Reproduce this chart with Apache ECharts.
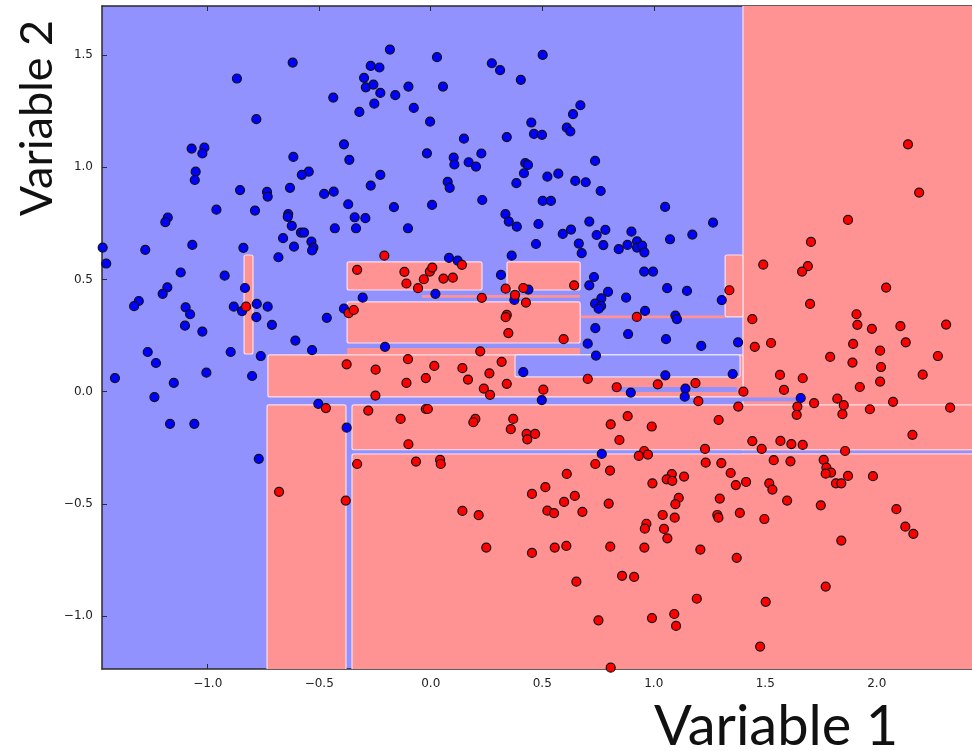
<!DOCTYPE html>
<html>
<head>
<meta charset="utf-8">
<script src="https://cdn.jsdelivr.net/npm/echarts@6/dist/echarts.min.js"></script>
<style>
  html, body { margin: 0; padding: 0; background: #fff; }
  #chart { width: 972px; height: 751px; }
</style>
</head>
<body>
<div id="chart"></div>
<script>
// tick labels
const xTicks = [-1.0, -0.5, 0.0, 0.5, 1.0, 1.5, 2.0];
const yTicks = [-1.0, -0.5, 0.0, 0.5, 1.0, 1.5];

// decision regions [x0, x1, y0, y1]
const redBoxes = [
  [1.400, 2.600, -1.400, 1.900],
  [1.320, 1.400, 0.333, 0.609],
  [0.670, 1.320, 0.327, 0.340],
  [-0.837, -0.797, 0.168, 0.609],
  [-0.375, 0.230, 0.453, 0.578],
  [0.342, 0.670, 0.453, 0.578],
  [-0.039, 0.670, 0.418, 0.431],
  [-0.375, 0.670, 0.217, 0.400],
  [-0.375, 0.670, 0.164, 0.195],
  [-0.730, 1.400, -0.023, 0.164],
  [-0.734, -0.380, -1.400, -0.059],
  [-0.353, 2.600, -0.259, -0.059],
  [-0.353, 2.600, -1.400, -0.277]
];
const blueBoxes = [
  [0.378, 1.387, 0.066, 0.164],
  [0.813, 1.374, -0.001, 0.021],
  [1.390, 1.656, -0.042, -0.026],
  [-0.353, 2.600, -0.274, -0.262]
];

// class 0 (blue) samples
const bluePoints = [
  [-0.598,1.723],[-0.619,1.466],[-0.869,1.395],[-0.782,1.214],[-1.072,1.083],[-1.015,1.087],[-1.024,1.061],
  [-0.616,1.046],[-1.054,0.980],[-1.058,0.943],[-0.547,0.980],[-0.578,0.966],[-0.855,0.898],[-0.734,0.890],
  [-0.731,0.869],[-0.631,0.908],[-0.961,0.811],[-0.788,0.807],[-0.639,0.791],[-0.641,0.779],[-1.179,0.776],
  [-1.190,0.755],[-0.623,0.739],[-0.478,0.881],
  [-0.183,1.524],[0.028,1.490],[-0.269,1.451],[-0.230,1.444],[0.274,1.463],[0.311,1.432],[0.404,1.389],
  [0.502,1.500],[-0.299,1.398],[-0.291,1.356],[-0.257,1.368],[-0.226,1.331],[-0.100,1.359],[-0.159,1.321],
  [0.055,1.359],[-0.437,1.310],[-0.253,1.283],[-0.320,1.246],[-0.076,1.264],[-0.003,1.203],[0.451,1.199],
  [0.463,1.148],[0.499,1.144],[0.341,1.134],[0.149,1.127],[-0.389,1.102],[-0.017,1.062],[-0.365,1.033],
  [0.103,1.043],[0.106,1.012],[0.170,1.022],[0.203,1.003],[0.227,1.061],[0.424,1.018],[0.436,1.010],
  [0.418,0.973],[0.384,0.929],[-0.226,0.966],[-0.269,0.918],[0.076,0.935],[0.085,0.908],[-0.435,0.891],
  [-0.370,0.835],[-0.165,0.822],[0.006,0.832],[0.231,0.854],[0.502,0.850],[0.539,0.850],[-0.341,0.777],
  [-0.293,0.773],[0.335,0.791],[0.350,0.758],[0.386,0.735],[0.483,0.747],[-0.430,0.728],[-0.335,0.728],
  [-0.102,0.728],
  [0.671,1.276],[0.638,1.236],[0.610,1.176],[0.626,1.159],[0.737,1.028],[0.523,0.958],[0.572,0.971],
  [0.648,0.939],[0.695,0.933],[0.762,0.894],[1.051,0.823],[0.711,0.758],[1.266,0.753],
  [-0.582,0.709],[-0.568,0.709],[-0.662,0.684],[-0.535,0.669],[-0.526,0.642],[-0.532,0.629],[-1.471,0.642],
  [-1.280,0.632],[-1.069,0.654],[-0.840,0.641],[-0.613,0.646],[-0.683,0.599],[-1.455,0.571],[-1.121,0.531],
  [-0.924,0.517],[-0.833,0.462],[-1.181,0.465],[-1.202,0.436],[-1.309,0.404],[-1.330,0.381],[-1.099,0.376],
  [-1.079,0.345],[-1.102,0.294],[-1.024,0.268],[-0.883,0.379],[-0.846,0.359],[-0.780,0.391],[-0.731,0.379],
  [-0.782,0.332],[-0.712,0.298],[-0.607,0.228],[-0.532,0.185],[-1.269,0.177],[-1.232,0.128],[-0.897,0.177],
  [-0.762,0.159],[-1.416,0.061],[-1.152,0.039],[-1.006,0.085],[-0.801,0.070],[-1.239,-0.024],[-1.169,-0.143],
  [-1.060,-0.143],[-0.504,-0.054],
  [0.363,0.606],[0.082,0.596],[0.121,0.584],[0.315,0.520],[0.021,0.436],[0.438,0.455],[0.375,0.409],
  [-0.305,0.419],[-0.389,0.370],[-0.466,0.329],[-0.205,0.200],[0.415,0.087],[-0.377,-0.160],[0.498,-0.037],
  [0.472,0.658],
  [0.592,0.703],[0.629,0.722],[0.744,0.698],[0.783,0.721],[0.900,0.713],[1.073,0.679],[1.173,0.700],
  [0.664,0.660],[0.677,0.617],[0.774,0.653],[0.843,0.635],[0.882,0.654],[0.925,0.670],[0.925,0.642],
  [0.948,0.651],[0.958,0.621],[0.957,0.535],[0.997,0.535],[0.732,0.511],[0.711,0.474],[1.060,0.461],
  [1.149,0.449],[0.795,0.445],[0.876,0.419],[0.765,0.416],[0.737,0.392],[0.764,0.382],[0.753,0.370],
  [1.305,0.408],[0.961,0.360],[1.097,0.339],[1.104,0.323],[0.738,0.283],[0.885,0.257],[1.055,0.234],
  [1.213,0.204],[1.378,0.220],[0.704,0.214],[0.741,0.161],[1.052,0.073],[1.354,0.079],[0.897,-0.004],
  [1.142,0.014],[1.139,-0.022],[1.659,-0.028],[-0.771,-0.299],[0.767,-0.277]
];

// class 1 (red) samples
const redPoints = [
  [2.140,1.102],[2.190,0.887],[1.871,0.765],[-0.828,0.379],
  [-0.208,0.606],[-0.330,0.543],[-0.118,0.534],[-0.109,0.482],[-0.057,0.461],[-0.031,0.501],[-0.004,0.535],
  [0.007,0.553],[0.057,0.504],[0.099,0.508],[0.140,0.565],[0.229,0.418],[0.336,0.459],[0.415,0.462],
  [0.378,0.431],[0.427,0.397],[-0.368,0.350],[-0.345,0.364],[0.341,0.342],[0.336,0.332],[0.348,0.261],
  [0.222,0.180],[-0.377,0.122],[-0.247,0.098],[-0.102,0.145],[0.016,0.115],[0.142,0.105],[0.318,0.133],
  [-0.022,0.061],[-0.109,0.039],[0.167,0.054],[0.263,0.082],[0.341,0.035],[0.238,0.014],[0.266,-0.014],
  [-0.248,-0.017],[-0.470,-0.073],[-0.280,-0.084],[-0.022,-0.077],[-0.013,-0.077],[-0.135,-0.121],
  [0.200,-0.121],[0.191,-0.136],[0.370,-0.121],[0.359,-0.167],[0.430,-0.188],[0.468,-0.188],[0.433,-0.212],
  [-0.100,-0.234],
  [0.643,0.474],[1.339,0.452],[0.924,0.333],[1.442,0.323],[0.596,0.234],[1.453,0.200],[0.704,0.057],
  [0.505,0.009],[0.834,0.020],[1.018,0.033],[1.187,0.038],[1.402,0.000],[1.200,-0.042],[1.379,-0.066],
  [0.883,-0.109],[0.807,-0.145],[0.991,-0.155],[1.291,-0.126],[0.846,-0.215],[1.442,-0.220],[0.957,-0.264],
  [1.230,-0.255],
  [1.705,0.667],[1.491,0.566],[1.691,0.559],[1.665,0.535],[2.042,0.464],[1.701,0.391],[1.909,0.345],
  [1.913,0.298],[1.978,0.280],[2.106,0.292],[2.311,0.299],[1.526,0.217],[1.894,0.213],[2.130,0.220],
  [2.015,0.183],[1.791,0.155],[1.891,0.130],[2.019,0.110],[2.274,0.159],[1.566,0.075],[1.668,0.060],
  [2.206,0.076],[2.015,0.045],[1.584,0.008],[1.924,0.021],[1.823,-0.031],[1.852,-0.060],[1.846,-0.100],
  [1.719,-0.051],[1.644,-0.066],[1.641,-0.103],[1.969,-0.078],[2.073,-0.045],[2.329,-0.071],[2.160,-0.192],
  [1.568,-0.219],[1.617,-0.233],[1.668,-0.237],[1.484,-0.255],[1.858,-0.264],
  [-0.680,-0.446],[-0.330,-0.322],[-0.066,-0.311],[0.042,-0.304],[0.045,-0.322],[-0.381,-0.485],
  [0.142,-0.531],[0.215,-0.550],[0.249,-0.694],[0.454,-0.455],[0.454,-0.718],
  [0.933,-0.286],[0.974,-0.280],[0.738,-0.322],[0.610,-0.366],[0.804,-0.351],[0.514,-0.425],[0.994,-0.408],
  [1.081,-0.367],[1.058,-0.390],[1.083,-0.397],[1.136,-0.378],[1.233,-0.316],[1.303,-0.318],[1.345,-0.362],
  [1.368,-0.416],[1.414,-0.402],[0.646,-0.464],[0.598,-0.491],[0.798,-0.498],[1.112,-0.473],[1.097,-0.501],
  [1.296,-0.476],[0.523,-0.530],[0.553,-0.541],[0.680,-0.535],[1.040,-0.549],[1.094,-0.561],[1.285,-0.549],
  [1.290,-0.561],[1.386,-0.540],[0.967,-0.588],[0.960,-0.610],[1.046,-0.611],[1.061,-0.653],[0.556,-0.694],
  [0.608,-0.687],[0.805,-0.690],[0.958,-0.694],[1.209,-0.703],[1.372,-0.740],[0.858,-0.820],[0.912,-0.825],
  [0.653,-0.846],[1.193,-0.922],[0.752,-1.018],[0.992,-1.008],[1.092,-0.990],[1.100,-1.043],[1.477,-1.135],
  [0.807,-1.229],
  [1.538,-0.305],[1.613,-0.310],[1.762,-0.304],[1.774,-0.338],[1.795,-0.360],[1.771,-0.365],[1.871,-0.375],
  [1.983,-0.376],[1.518,-0.408],[1.532,-0.436],[1.817,-0.408],[1.841,-0.408],[1.598,-0.485],[1.749,-0.506],
  [2.088,-0.523],[1.496,-0.567],[2.128,-0.601],[2.164,-0.633],[1.841,-0.663],[1.771,-0.868],[1.502,-0.936]
];

const chart = echarts.init(document.getElementById('chart'), null, { renderer: 'canvas' });

const tickFmt = v => (v < 0 ? '\u2212' : '') + Math.abs(v).toFixed(1);
const frame = { show: true, onZero: false, lineStyle: { color: '#2a2a2a', width: 1.5 } };

function boxSeries(boxes, fill, stroke, z) {
  return {
    type: 'custom',
    z: z,
    clip: true,
    silent: true,
    data: boxes,
    encode: { x: [0, 1], y: [2, 3] },
    renderItem(params, api) {
      const p0 = api.coord([api.value(0), api.value(3)]);
      const p1 = api.coord([api.value(1), api.value(2)]);
      const w = p1[0] - p0[0], h = p1[1] - p0[1];
      const big = w > 8 && h > 8;
      return {
        type: 'rect',
        shape: { x: p0[0], y: p0[1], width: w, height: h, r: big ? 2 : 1 },
        style: { fill: fill, stroke: big ? stroke : null, lineWidth: 1.2 }
      };
    }
  };
}

chart.setOption({
  animation: false,
  grid: { left: 102, right: 0, top: 6, bottom: 82, show: true, backgroundColor: '#9292ff', borderWidth: 0 },
  xAxis: [
    {
      type: 'value', min: -1.474, max: 2.427, position: 'bottom',
      axisLine: frame,
      axisTick: { show: true, inside: true, length: 5, customValues: xTicks, lineStyle: { color: '#2a2a2a' } },
      axisLabel: { customValues: xTicks, formatter: tickFmt, fontSize: 12, color: '#222', margin: 9, fontFamily: 'DejaVu Sans' },
      splitLine: { show: false }
    },
    {
      type: 'value', min: -1.474, max: 2.427, position: 'top',
      axisLine: frame,
      axisTick: { show: true, inside: true, length: 5, customValues: xTicks, lineStyle: { color: '#2a2a2a' } },
      axisLabel: { show: false },
      splitLine: { show: false }
    }
  ],
  yAxis: {
    type: 'value', min: -1.235, max: 1.718,
    axisLine: frame,
    axisTick: { show: true, inside: true, length: 5, customValues: yTicks, lineStyle: { color: '#2a2a2a' } },
    axisLabel: { customValues: yTicks, formatter: tickFmt, fontSize: 12, color: '#222', margin: 9, fontFamily: 'DejaVu Sans' },
    splitLine: { show: false }
  },
  series: [
    boxSeries(redBoxes, '#ff9292', 'rgba(255,232,238,0.9)', 1),
    boxSeries(blueBoxes, '#9292ff', 'rgba(232,232,255,0.9)', 2),
    {
      type: 'scatter', z: 3, clip: true, data: bluePoints, symbolSize: 9,
      itemStyle: { color: '#0000ff', borderColor: '#111', borderWidth: 1.2, opacity: 1 }
    },
    {
      type: 'scatter', z: 3, clip: true, data: redPoints, symbolSize: 9,
      itemStyle: { color: '#ff0000', borderColor: '#111', borderWidth: 1.2, opacity: 1 }
    }
  ],
  graphic: [
    {
      type: 'text', x: 37, y: 118, rotation: Math.PI / 2,
      style: { text: 'Variable 2', fontSize: 45, fontFamily: 'Lato', fill: '#111', align: 'center', verticalAlign: 'middle' }
    },
    {
      type: 'text', x: 776, y: 727,
      style: { text: 'Variable 1', fontSize: 56, fontFamily: 'Lato', fill: '#111', align: 'center', verticalAlign: 'middle' }
    }
  ]
});
</script>
</body>
</html>
